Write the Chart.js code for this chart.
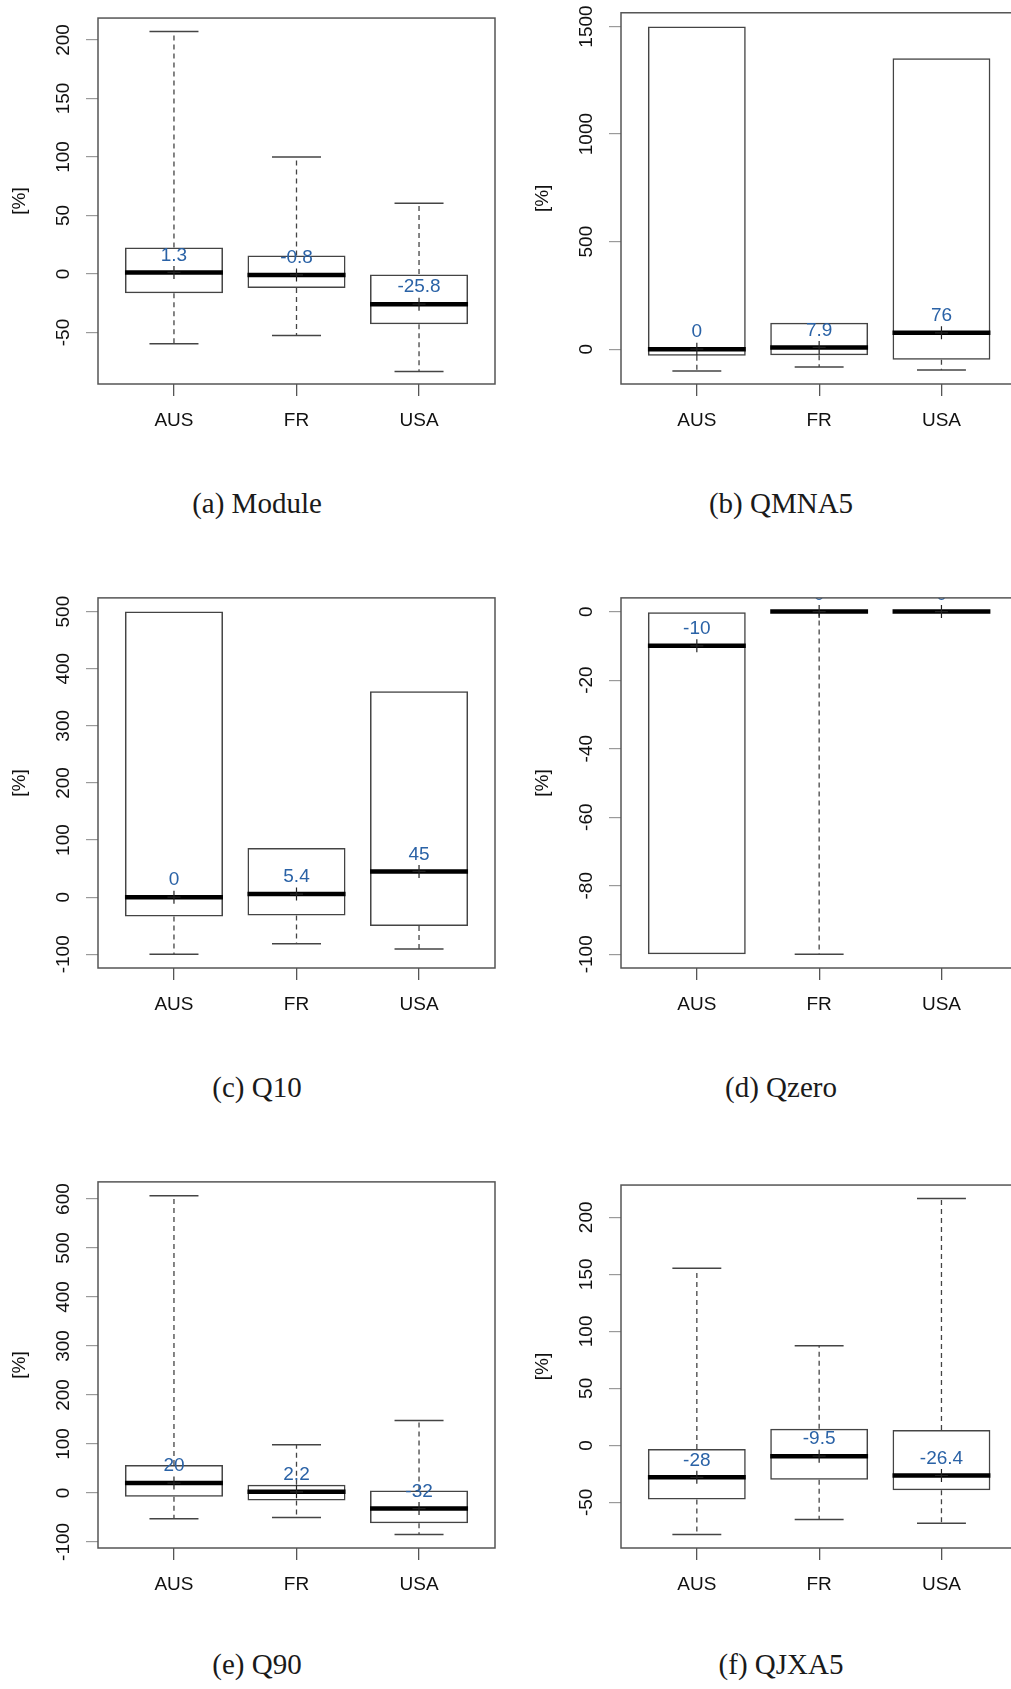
<!DOCTYPE html>
<html><head><meta charset="utf-8">
<script src="https://cdn.jsdelivr.net/npm/chart.js@4.4.1/dist/chart.umd.min.js"></script>
<style>
html,body{margin:0;padding:0;background:#fff;overflow:hidden;width:1011px;height:1689px;position:relative}
canvas{position:absolute}
.cap{position:absolute;width:300px;text-align:center;font-family:"Liberation Serif","Times New Roman",serif;font-size:29px;line-height:34px;color:#1a1a1a}
</style></head><body>
<script>
const COUNTRIES=['AUS','FR','USA'];

// per country: [lower whisker, Q1, median, Q3, upper whisker]
const MODULE_STATS=[[-59.6,-16.5,1.3,22.6,207.2],[-52.5,-12,-0.8,15.7,100],[-83.3,-43,-25.8,0,60.4]];
const QMNA5_STATS=[[-102,-31,0,1500,1500],[-83,-28,7.9,123,123],[-97,-49.4,76,1353,1353]];
const Q10_STATS=[[-100,-34,0,500,500],[-81.6,-32,5.4,86,86],[-90.8,-50.3,45,360.6,360.6]];
const QZERO_STATS=[[-100,-100,-10,0,0],[-100,0,0,0,0],[0,0,0,0,0]];
const Q90_STATS=[[-52.6,-8,20,57,606.8],[-50,-15.6,2.2,16.8,98.3],[-85,-62,-32,4.7,148]];
const QJXA5_STATS=[[-78.2,-47.4,-28,-3.2,155.4],[-65,-30.2,-9.5,14.6,87.3],[-68.4,-39.4,-26.4,13.4,216.4]];

const MODULE_TICKS=[-50,0,50,100,150,200];
const QMNA5_TICKS=[0,500,1000,1500];
const Q10_TICKS=[-100,0,100,200,300,400,500];
const QZERO_TICKS=[-100,-80,-60,-40,-20,0];
const Q90_TICKS=[-100,0,100,200,300,400,500,600];
const QJXA5_TICKS=[-50,0,50,100,150,200];

const Y_RANGES=[[-94,218.7],[-162,1564],[-124,524],[-104,4],[-112.5,635],[-90,228.3]];
const CAPTIONS=['(a) Module','(b) QMNA5','(c) Q10','(d) Qzero','(e) Q90','(f) QJXA5'];

const STATS=[MODULE_STATS,QMNA5_STATS,Q10_STATS,QZERO_STATS,Q90_STATS,QJXA5_STATS];
const TICKS=[MODULE_TICKS,QMNA5_TICKS,Q10_TICKS,QZERO_TICKS,Q90_TICKS,QJXA5_TICKS];

// layout (plot frames as measured on the reference)
const COLS=[{left:0,width:505,padL:0,padR:10,capX:257},{left:505,width:520,padL:18,padR:7,capX:781}];
const ROWS=[{top:12,bottom:384,capY:503},{top:595,bottom:968,capY:1087},{top:1179,bottom:1548,capY:1664}];
const BOX_HALF=0.4,CAP_HALF=0.2,FONT='Liberation Sans',FS=19;

Chart.defaults.font.family=FONT;
Chart.defaults.font.size=FS;
Chart.defaults.color='#111';

const measure=document.createElement('canvas').getContext('2d');
measure.font=FS+'px '+FONT;

const frameAndLabels={
  id:'frameAndLabels',
  afterDatasetsDraw(chart,args,opts){
    const {ctx,chartArea:a,scales:{x,y}}=chart;
    ctx.save();
    ctx.beginPath();ctx.rect(a.left,a.top,a.right-a.left,a.bottom-a.top);ctx.clip();
    ctx.font=FS+'px '+FONT;ctx.fillStyle='#2a62a6';ctx.textAlign='center';ctx.textBaseline='middle';
    opts.stats.forEach((s,i)=>ctx.fillText(String(s[2]),x.getPixelForValue(i+1),y.getPixelForValue(s[2])-17));
    ctx.restore();
    ctx.save();ctx.strokeStyle='#555';ctx.lineWidth=1.5;
    ctx.strokeRect(a.left,a.top,a.right-a.left,a.bottom-a.top);ctx.restore();
  }
};

function panelDatasets(stats){
  const ds=[{type:'bar',data:stats.map((s,i)=>({x:i+1,y:[s[1],s[3]]})),
    backgroundColor:'rgba(0,0,0,0)',borderColor:'#444',borderWidth:1.5,borderSkipped:false,
    barPercentage:BOX_HALF*2,categoryPercentage:1,order:5}];
  stats.forEach((s,i)=>{
    const c=i+1;
    [[s[3],s[4]],[s[1],s[0]]].forEach(([from,to])=>{
      if(from===to)return;
      ds.push({type:'line',data:[{x:c,y:from},{x:c,y:to}],borderColor:'#444',borderWidth:1.3,borderDash:[5,4],pointRadius:0,order:4});
      ds.push({type:'line',data:[{x:c-CAP_HALF,y:to},{x:c+CAP_HALF,y:to}],borderColor:'#444',borderWidth:1.5,pointRadius:0,order:3});
    });
    ds.push({type:'line',data:[{x:c-BOX_HALF,y:s[2]},{x:c+BOX_HALF,y:s[2]}],borderColor:'#000',borderWidth:4.5,borderCapStyle:'butt',pointRadius:0,order:2});
  });
  ds.push({type:'scatter',data:stats.map((s,i)=>({x:i+1,y:s[2]})),pointStyle:'cross',pointRadius:6.5,borderColor:'#222',borderWidth:1.2,order:1});
  return ds;
}

STATS.forEach((stats,p)=>{
  const col=COLS[p%2],row=ROWS[Math.floor(p/2)];
  const ticks=TICKS[p],range=Y_RANGES[p];
  const cv=document.createElement('canvas');
  const h=row.bottom-row.top+12+56;
  cv.width=col.width;cv.height=h;
  cv.style.left=col.left+'px';cv.style.top=(row.top-12)+'px';
  cv.style.width=col.width+'px';cv.style.height=h+'px';
  document.body.appendChild(cv);
  const widest=Math.max(...ticks.map(t=>measure.measureText(String(t)).width));
  new Chart(cv,{
    type:'bar',
    data:{datasets:panelDatasets(stats)},
    plugins:[frameAndLabels],
    options:{responsive:false,animation:false,events:[],
      layout:{padding:{top:12,bottom:0,left:col.padL,right:col.padR}},
      plugins:{legend:{display:false},tooltip:{enabled:false},frameAndLabels:{stats}},
      scales:{
        x:{type:'linear',min:0.38,max:3.62,offset:false,
          afterBuildTicks:s=>{s.ticks=COUNTRIES.map((c,i)=>({value:i+1}));},
          afterFit:s=>{s.height=56;},
          grid:{offset:false,drawOnChartArea:false,tickLength:12,color:'#555',lineWidth:1.3},
          border:{display:false},
          ticks:{callback:v=>COUNTRIES[v-1],padding:13,maxRotation:0,autoSkip:false}},
        y:{min:range[0],max:range[1],
          afterBuildTicks:s=>{s.ticks=ticks.map(v=>({value:v}));},
          afterFit:s=>{s.width=98;},
          grid:{drawOnChartArea:false,tickLength:12,color:'#9a9a9a',lineWidth:1.2},
          border:{display:false},
          ticks:{callback:v=>String(v),minRotation:90,maxRotation:90,crossAlign:'center',padding:22.5-widest/2,autoSkip:false},
          title:{display:true,text:'[%]',padding:{top:8,bottom:0}}}
      }
    }
  });
  const cap=document.createElement('div');
  cap.className='cap';cap.textContent=CAPTIONS[p];
  cap.style.left=(col.capX-150)+'px';cap.style.top=(row.capY-17)+'px';
  document.body.appendChild(cap);
});
</script>
</body></html>
